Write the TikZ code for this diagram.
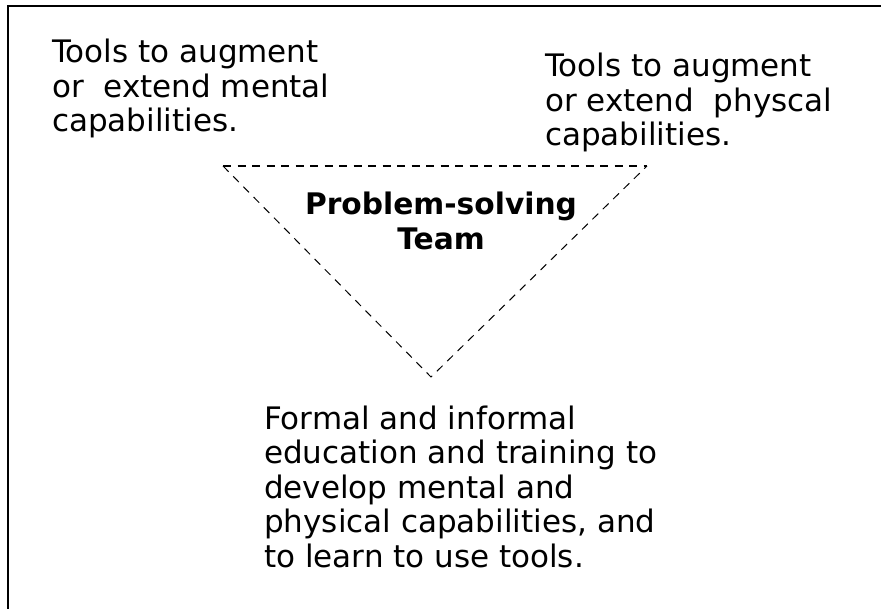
\documentclass[tikz,border=0pt]{standalone}
\usepackage{fontspec}
\setmainfont{DejaVu Sans}
\begin{document}
\begin{tikzpicture}[x=1pt,y=-1pt,
  body/.style={anchor=base west,inner sep=0pt,align=left,font=\fontsize{31}{34.5}\selectfont},
  title/.style={anchor=base,inner sep=0pt,align=center,font=\bfseries\fontsize{29.7}{35}\selectfont},
  frameline/.style={line width=2pt},
  topdash/.style={line width=1.8pt,dash pattern=on 8pt off 6.5pt},
  sidedash/.style={line width=1pt,dash pattern=on 8pt off 6.5pt}]
\useasboundingbox (0,0) rectangle (881,609);
\draw[frameline] (8,609) -- (8,6) -- (881,6);
\coordinate (tl) at (223,166);
\coordinate (tr) at (647,166);
\coordinate (apex) at (431,377);
\draw[topdash] (tl) -- (tr);
\draw[sidedash] (tl) -- (apex) -- (tr);
\node[body] (mental) at (52,132) {Tools to augment\\or\ \ extend mental\\capabilities.};
\node[body] (physical) at (545,146) {Tools to augment\\or extend\ \ physcal\\capabilities.};
\node[title] (team) at (441,250) {Problem-solving\\Team};
\node[body] (edu) at (264,567) {Formal and informal\\education and training to\\develop mental and\\physical capabilities, and\\to learn to use tools.};
\end{tikzpicture}
\end{document}
